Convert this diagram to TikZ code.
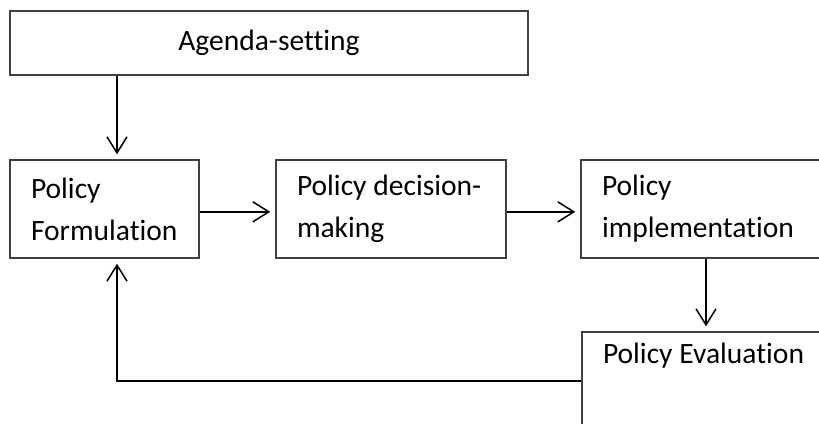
\documentclass[tikz,border=0pt]{standalone}
\usepackage{fontspec}
\setmainfont{Carlito}[Ligatures=CommonOff]
\usetikzlibrary{arrows.meta}

\begin{document}
\begin{tikzpicture}
%
\definecolor{col_box}{rgb}{0.25,0.25,0.25}
\definecolor{col_lab}{rgb}{0.0,0.0,0.0}
\definecolor{col_edge}{rgb}{0.0,0.0,0.0}
%
%
\tikzset{
  stage/.style={draw=col_box, line width=0.7pt, rectangle, inner xsep=0.3675cm,
    inner ysep=0pt, text=col_lab, align=left,
    font=\fontsize{14.7}{21}\selectfont,
    execute at begin node={\spaceskip=0.23em plus 0.05em\relax}},
  flow/.style={draw=col_edge, line width=0.75pt,
    -{Straight Barb[length=8pt,width=10pt]}, shorten >=2.5pt}
}
%
\clip (0,0) rectangle (14.3325,7.42);
%
\node[stage, align=center, minimum width=9.065cm, minimum height=1.12cm] (agenda) at (4.7075,6.6675) {Agenda-setting};
\node[stage, text width=2.5725cm, minimum height=1.715cm] (form) at (1.8288,3.7625) {Policy\\Formulation};
\node[stage, text width=3.29cm, minimum height=1.715cm] (decide) at (6.8425,3.7625) {\mbox{Policy decision-}\\making};
\node[stage, text width=3.64cm, minimum height=1.715cm] (implement) at (12.355,3.7625) {Policy\\implementation};
\node[stage, text width=3.64cm, minimum height=1.715cm] (evaluate) at (12.3725,0.7525) {\mbox{Policy Evaluation}\\\strut};
%
\coordinate (loop) at (2.0475,0);
%
\draw[flow] (agenda.south -| loop) -- (form.north -| loop);
\draw[flow] ([yshift=-0.05cm]form.east) -- ([yshift=-0.05cm]decide.west);
\draw[flow] ([yshift=-0.05cm]decide.east) -- ([yshift=-0.05cm]implement.west);
\draw[flow] (implement.south) -- (implement.south |- evaluate.north);
\draw[flow] (evaluate.west) -- (evaluate.west -| loop) -- (form.south -| loop);
%
%
\end{tikzpicture}
\end{document}
